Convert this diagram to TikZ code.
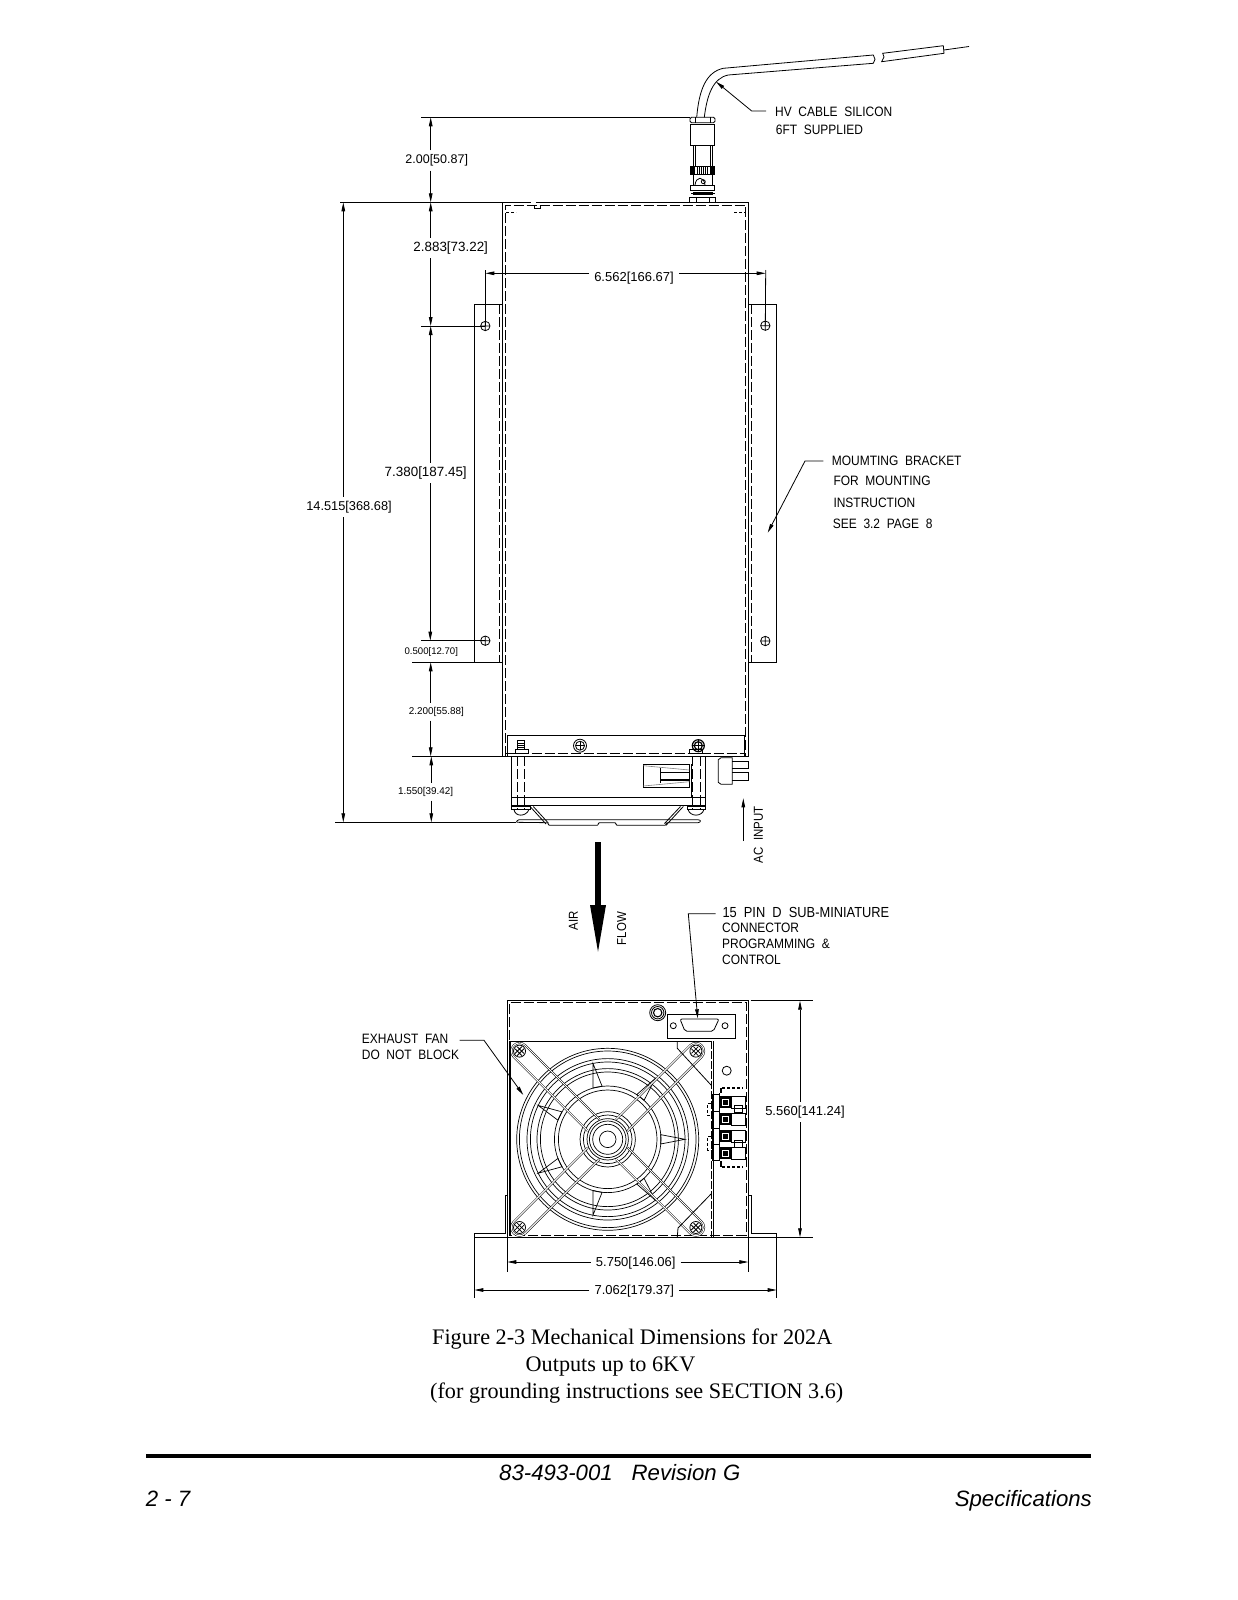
\documentclass[tikz,border=0pt]{standalone}
\usepackage{fontspec}
\usepackage{tikz}
\usetikzlibrary{arrows.meta,calc}
\newfontfamily\cadfont[FakeStretch=0.88,WordSpace=2]{Liberation Sans}
\newfontfamily\cadnum{Liberation Sans}
\newfontfamily\capfont{Liberation Serif}
\newfontfamily\footfont{Liberation Sans}
\newcommand{\mhole}[1]{\draw[ln] (#1) circle (4.7) (#1)++(-4.7,0) -- ++(9.4,0) (#1)++(0,-4.7) -- ++(0,9.4);}

\begin{document}
\begin{tikzpicture}[x=1pt,y=-1pt,
    ln/.style={line width=.8pt},
    hid/.style={line width=.8pt,dash pattern=on 10pt off 3pt},
    tipline/.style={line width=.8pt,-{Stealth[length=9pt,width=3.6pt,inset=0pt]}},
    dimlab/.style={font=\cadnum\fontsize{#1}{#1}\selectfont,inner xsep=5pt,inner ysep=4pt},
    dimlab/.default=13,
    cadlab/.style={font=\cadfont\fontsize{#1}{#1}\selectfont,inner sep=0pt,anchor=west},
    cadlab/.default=13.6,
    caplab/.style={font=\capfont\fontsize{22.2}{22.2}\selectfont,inner sep=0pt,anchor=base west},
    footlab/.style={font=\footfont\itshape\fontsize{22.2}{22.2}\selectfont,inner sep=0pt,anchor=base west},
    dbl/.style={line width=.5pt,double,double distance=1pt}]
  \useasboundingbox (0,0) rectangle (1237,1600);

  % main box
  \draw[ln] (502.5,756) -- (502.5,202.3) -- (531,202.3);
  \draw[ln] (536,202.3) -- (748.7,202.3) -- (748.7,756);
  \draw[hid] (505.5,756) -- (505.5,205) -- (745.5,205) -- (745.5,756);
  \draw[ln] (534.5,205) -- (534.5,208) -- (540.7,208) -- (540.7,205);
  \draw[ln,densely dashed] (506,212) -- (516,212) (734,212) -- (745,212);
  \draw[ln] (507.3,756) -- (507.3,735.7) -- (744,735.7) -- (744,756);
  \draw[hid] (505.5,753.3) -- (745.5,753.3);
  \draw[ln] (502.7,756) -- (748.7,756);

  % brackets
  \draw[ln] (502.3,304.3) -- (474.3,304.3) -- (474.3,662.3) -- (502.3,662.3);
  \draw[ln] (748.7,304) -- (776.3,304) -- (776.3,662.3) -- (748.7,662.3);
  \draw[hid] (499.5,304.3) -- (499.5,662.3);
  \draw[hid] (751.7,304) -- (751.7,662.3);
  \coordinate (hTL) at (485.3,326);
  \coordinate (hBL) at (485.3,640.7);
  \coordinate (hTR) at (765.3,325.7);
  \coordinate (hBR) at (765.3,641);
  \mhole{hTL}
  \mhole{hBL}
  \mhole{hTR}
  \mhole{hBR}

  % cable and connector
  \draw[ln] (696.7,117.3) .. controls (699,90) and (706,72) .. (723.3,68.3) -- (873.3,55) -- (875,59.3) -- (873.3,63.3) -- (728.3,75) .. controls (713,78) and (707,95) .. (704.3,117.3);
  \draw[ln] (882.7,53.3) -- (943.3,45.7) -- (944,53.3) -- (881.7,61.7) -- (884,57) -- cycle;
  \draw[ln] (944,50) -- (969,46.5);
  \draw[ln,rounded corners=1.5pt] (690,117.3) rectangle (715,122.7);
  \draw[ln] (695,117.3) -- (695,122.7) (710,117.3) -- (710,122.7);
  \draw[ln] (690.7,124.3) rectangle (714.7,145);
  \draw[ln] (693.3,145) -- (693.3,166) (695.3,145) -- (695.3,166) (710,145) -- (710,166) (712,145) -- (712,166);
  \draw[ln] (690,166) rectangle (714.7,174);
  \fill (690,166) rectangle (695,174);
  \fill (710,166) rectangle (714.7,174);
  \draw[line width=.6pt] (697,166) -- (697,174) (699,166) -- (699,174) (701,166) -- (701,174) (703,166) -- (703,174) (705,166) -- (705,174) (707,166) -- (707,174);
  \draw[ln] (693.3,174) -- (693.3,185) (712,174) -- (712,185);
  \draw[ln] (695,185) .. controls (696,176) and (704,176) .. (705,185);
  \draw[ln] (703.3,181.7) circle (2);
  \draw[ln] (690.7,185) rectangle (714.7,190);
  \fill (693.3,191.7) rectangle (712.7,195);
  \draw[ln] (691,193) -- (715,193);
  \draw[ln] (689.3,197.3) rectangle (715.7,202);
  \draw[ln] (696,197.3) -- (696,202) (709,197.3) -- (709,202);

  % fan tray side view
  \draw[ln] (511.3,756) -- (511.3,805.7) -- (705.7,805.7) -- (705.7,756);
  \draw[ln] (511.3,797.7) -- (705.7,797.7);
  \draw[hid] (517,756) -- (517,810) (524.3,756) -- (524.3,810) (692.5,756) -- (692.5,810) (700,756) -- (700,810);
  \draw[ln] (691.3,764) -- (691.3,797.7);
  \draw[ln] (515,749.3) rectangle (528.3,753.3);
  \draw[ln] (517.3,740.7) rectangle (524.7,749.3);
  \draw[ln] (517.3,743) -- (524.7,743) (517.3,745) -- (524.7,745) (517.3,747) -- (524.7,747);
  \draw[ln] (689,749.3) rectangle (702.7,753.3);
  \draw[ln] (580,745.7) circle (6.5) (580,745.7) circle (4.5);
  \draw[ln] (575.5,745.7) -- (584.5,745.7) (580,741.2) -- (580,750.2);
  \draw[line width=1.2pt] (698.3,745.7) circle (6) (698.3,745.7) circle (4);
  \draw[ln] (692.3,745.7) -- (704.3,745.7) (698.3,739.7) -- (698.3,751.7);
  \draw[ln] (511,806.5) rectangle (530,809.5);
  \draw[ln] (514,809.5) .. controls (515,817) and (526,817) .. (529,809.5);
  \draw[ln] (687,806.5) rectangle (705,809.5);
  \draw[ln] (688,809.5) .. controls (690,817) and (702,817) .. (704,809.5);
  \draw[ln] (643.3,764.3) rectangle (689.3,787.7);
  \draw[line width=.6pt,gray] (643.3,765.7) -- (689.3,770) (643.3,786) -- (689.3,781.7);
  \draw[ln] (660,768.3) -- (660,783.3);
  \draw[line width=1.4pt] (660,772.7) -- (689.3,772.7) (660,780) -- (689.3,780);
  \draw[ln] (718.3,759.7) -- (721,757.7) -- (732.3,757.7) -- (732.3,784.3) -- (721,784.3) -- (718.3,782.3) -- cycle;
  \draw[ln] (732.3,761) -- (748.7,761) -- (748.7,768.3) -- (732.3,768.3);
  \draw[ln] (732.3,772.3) -- (748.7,772.3) -- (748.7,780) -- (732.3,780);
  \draw[ln,rounded corners=1pt] (516,822.3) -- (518,819.7) -- (699,819.7) -- (701,821) -- (699,822.7) -- (666,822.7) -- (666,825.3) -- (616,825.3) -- (616,822.7) -- (598.3,822.7) -- (598.3,825.3) -- (548.3,825.3) -- (548.3,822.7) -- cycle;
  \draw[ln] (533.3,806.5) -- (548.3,823) (531,807.5) -- (546,824) (683.3,806.5) -- (666,825.3) (680.5,806.5) -- (664.5,823.5);

  % side view dimensions
  \draw[ln] (421,117.3) -- (690,117.3);
  \draw[ln] (340,202.3) -- (502.5,202.3);
  \draw[ln] (421,326) -- (hTL);
  \draw[ln] (421,640.7) -- (hBL);
  \draw[ln] (412.3,662.3) -- (474.3,662.3);
  \draw[ln] (412.3,756.3) -- (502.5,756.3);
  \draw[ln] (335,822.3) -- (516,822.3);
  \coordinate (a0) at (430.7,117.3);
  \coordinate (a1) at (430.7,202.3);
  \coordinate (a2) at (430.7,326);
  \coordinate (a3) at (430.3,640.7);
  \coordinate (a4) at (430.7,662.3);
  \coordinate (a5) at (430.7,756.3);
  \coordinate (a6) at (431.3,756.3);
  \coordinate (a7) at (431.3,822.3);
  \coordinate (l0) at (343.3,202.3);
  \coordinate (l1) at (343.3,822.3);
  \node[dimlab=12.5] (d200) at (436.7,160.5) {2.00[50.87]};
  \node[dimlab=13.4] (d288) at (450.7,248) {2.883[73.22]};
  \node[dimlab=13.4] (d738) at (425.7,473) {7.380[187.45]};
  \node[dimlab=9.6] (d050) at (431.3,652.3) {0.500[12.70]};
  \node[dimlab=9.9] (d220) at (436.3,711.7) {2.200[55.88]};
  \node[dimlab=9.9] (d155) at (425.7,791.7) {1.550[39.42]};
  \node[dimlab=12.8] (d145) at (349,507) {14.515[368.68]};
  \draw[tipline] (d200.north -| a0) -- (a0);
  \draw[tipline] (d200.south -| a1) -- (a1);
  \draw[tipline] (d288.north -| a1) -- (a1);
  \draw[tipline] (d288.south -| a2) -- (a2);
  \draw[tipline] (d738.north -| a2) -- (a2);
  \draw[tipline] (d738.south -| a3) -- (a3);
  \draw[tipline] (d220.north -| a4) -- (a4);
  \draw[tipline] (d220.south -| a5) -- (a5);
  \draw[tipline] (d155.north -| a6) -- (a6);
  \draw[tipline] (d155.south -| a7) -- (a7);
  \draw[tipline] (d145.north -| l0) -- (l0);
  \draw[tipline] (d145.south -| l1) -- (l1);

  \draw[ln] (hTL) -- (485.3,270);
  \draw[ln] (hTR) -- (765.7,270);
  \coordinate (w0) at (485.3,273.3);
  \coordinate (w1) at (765.7,273.3);
  \node[dimlab] (d656) at (634,278.5) {6.562[166.67]};
  \draw[tipline] (d656.west |- w0) -- (w0);
  \draw[tipline] (d656.east |- w1) -- (w1);

  % leaders
  \node[cadlab] (hv1) at (775,112.3) {HV CABLE SILICON};
  \node[cadlab] (hv2) at (775.7,129.7) {6FT SUPPLIED};
  \coordinate (hvtip) at (716,81.7);
  \draw[tipline] (hv1.west) ++(-9,-1.3) -- (751.7,111) -- (hvtip);
  \node[cadlab] (mb1) at (831.7,461) {MOUMTING BRACKET};
  \node[cadlab] (mb2) at (833.3,481) {FOR MOUNTING};
  \node[cadlab] (mb3) at (833.3,502.7) {INSTRUCTION};
  \node[cadlab] (mb4) at (832.7,524.3) {SEE 3.2 PAGE 8};
  \coordinate (mbtip) at (767.7,532.7);
  \draw[tipline] (mb1.west) ++(-8.4,0) -- (805,461) -- (mbtip);

  % ac input and air flow
  \coordinate (actip) at (743.3,798.3);
  \coordinate (acend) at (743.3,841);
  \draw[tipline] (acend) -- (actip);
  \node[cadlab=13,rotate=90,anchor=west] (ac) at (758.3,863.3) {AC INPUT};
  \fill (595,842.3) rectangle (601,905);
  \fill (590,905) -- (606,905) -- (598,951.7) -- cycle;
  \node[cadlab=13,rotate=90,anchor=center] (air) at (573.3,921) {AIR};
  \node[cadlab=13,rotate=90,anchor=center] (flow) at (621.7,928.5) {FLOW};
  \node[cadlab=14.6] (dsub1) at (722.3,912.7) {15 PIN D SUB-MINIATURE};
  \node[cadlab] (dsub2) at (722,928.3) {CONNECTOR};
  \node[cadlab] (dsub3) at (722,944) {PROGRAMMING \&};
  \node[cadlab] (dsub4) at (722,960) {CONTROL};
  \coordinate (dstip) at (697.7,1018.3);
  \draw[tipline] (dsub1.west) ++(-6.6,1) -- (688.3,913.7) -- (dstip);
  \node[cadlab] (ex1) at (361.7,1039.3) {EXHAUST FAN};
  \node[cadlab] (ex2) at (361.7,1055) {DO NOT BLOCK};
  \coordinate (extip) at (523.3,1095);

  % end view housing
  \draw[ln] (507.3,1237.3) -- (507.3,1000.7) -- (748.7,1000.7) -- (748.7,1237.3);
  \draw[hid] (509.3,1235.3) -- (509.3,1002.6) -- (746,1002.6) -- (746,1235.3) -- cycle;
  \draw[ln] (474.3,1237.3) -- (474.3,1233.3) -- (505,1233.3) -- (505,1195) -- (507.3,1195);
  \draw[ln] (776.7,1237.3) -- (776.7,1233.3) -- (751,1233.3) -- (751,1195) -- (748.7,1195);
  \draw[ln] (474.3,1237.3) -- (776.7,1237.3);

  % fan
  \coordinate (fan) at (607.7,1139.3);
  \foreach \r in {91,88.3,80.7,77.3,70.7,67.3,53.3,49.3,27.7,24.3,20.7,18.3,15,8.3}
    \draw[line width=.7pt] (fan) circle (\r);
  \foreach \a in {0,52,101,154,206,259,308} {
    \draw[line width=.7pt] ($(fan)+(\a-5:53.3)$) -- ($(fan)+(\a:77.3)$) -- ($(fan)+(\a+5:53.3)$) -- cycle;
  }
  \foreach \a in {45,135,225,315} {
    \begin{scope}[shift={(fan)},rotate=\a]
      \draw[dbl] (20,8.2) -- (124.7,8.2) arc[start angle=90,end angle=-90,radius=8.2] -- (20,-8.2);
      \draw[ln] (124.7,0) circle (6);
      \draw[ln] (120,-1.5) -- (129.4,-1.5) (120,1.5) -- (129.4,1.5) (123.2,-5) -- (123.2,5) (126.2,-5) -- (126.2,5);
    \end{scope}
  }
  \draw[line width=1.4pt] (510,1041) -- (510,1235);
  \draw[ln] (510,1041) -- (712.3,1041);
  \draw[ln] (677.3,1041) -- (677.3,1048.3) -- (711,1085);
  \draw[ln] (711,1194) -- (678,1228) -- (677.3,1237);
  \draw[line width=.6pt,dash pattern=on 8pt off 2pt] (711,1041) -- (711,1237);
  \draw[line width=.6pt] (713,1041) -- (713,1237);

  \draw[tipline] (ex1.east) ++(11,1) -- (484,1040.3) -- (extip);

  % d sub and standoff
  \draw[ln] (667.3,1014.3) rectangle (735.7,1038.3);
  \draw[ln] (673.3,1025.7) circle (3) (725,1025.7) circle (3);
  \draw[ln,rounded corners=2pt] (680,1019) -- (719,1019) -- (713.3,1031.3) -- (685,1031.3) -- cycle;
  \draw[ln] (657.7,1012.7) circle (8) (657.7,1012.7) circle (6.2);
  \draw[line width=1.1pt] (657.7,1012.7) circle (4.2);
  \draw[ln] (726.7,1070.7) circle (4.5);

  % terminal block
  \draw[line width=2pt,densely dashed] (722,1088) -- (743,1088) (722,1166.5) -- (743,1166.5);
  \draw[line width=1.4pt] (719.3,1093) -- (719.3,1161) (721,1088) -- (721,1093) (721,1161) -- (721,1166.5);
  \draw[ln] (712.7,1094.3) rectangle (719.3,1160);
  \draw[ln] (712.7,1111) -- (719.3,1111) (712.7,1128) -- (719.3,1128) (712.7,1144) -- (719.3,1144);
  \draw[ln,densely dashed] (710.7,1103.3) -- (707.3,1103.3) -- (707.3,1115) -- (710.7,1115);
  \draw[ln,densely dashed] (710.7,1136.7) -- (707.3,1136.7) -- (707.3,1150) -- (710.7,1150);
  \foreach \y in {1102.3,1119,1136,1153.3} {
    \fill (719.5,\y-6) rectangle (731.5,\y+6);
    \draw[white,line width=.6pt] (722.5,\y-3) rectangle (728.5,\y+3);
    \draw[ln] (731.5,\y-6) rectangle (745,\y+6);
  }
  \draw[ln] (734,1105) rectangle (742,1112) (734,1140) rectangle (742,1147);

  % end view dimensions
  \draw[ln] (507.3,1237.3) -- (507.3,1271.7);
  \draw[ln] (748.3,1237.3) -- (748.3,1271.7);
  \draw[ln] (474.3,1237.3) -- (474.3,1298.3);
  \draw[ln] (776.7,1237.3) -- (776.7,1298.3);
  \draw[ln] (750.7,1000.7) -- (812.7,1000.7);
  \draw[ln] (776.7,1237.3) -- (812.7,1237.3);
  \coordinate (b0) at (507.3,1262);
  \coordinate (b1) at (748.3,1262);
  \coordinate (c0) at (474.3,1290);
  \coordinate (c1) at (776.7,1290);
  \coordinate (r0) at (800,1000.7);
  \coordinate (r1) at (800,1237.3);
  \node[dimlab] (d575) at (635.7,1263.5) {5.750[146.06]};
  \node[dimlab] (d706) at (634.3,1291.5) {7.062[179.37]};
  \node[dimlab] (d556) at (805,1112) {5.560[141.24]};
  \draw[tipline] (d575.west |- b0) -- (b0);
  \draw[tipline] (d575.east |- b1) -- (b1);
  \draw[tipline] (d706.west |- c0) -- (c0);
  \draw[tipline] (d706.east |- c1) -- (c1);
  \draw[tipline] (d556.north -| r0) -- (r0);
  \draw[tipline] (d556.south -| r1) -- (r1);

  % caption and footer
  \node[caplab] (cap1) at (432,1344) {Figure 2-3 Mechanical Dimensions for 202A};
  \node[caplab] (cap2) at (525.5,1371) {Outputs up to 6KV};
  \node[caplab] (cap3) at (430,1398) {(for grounding instructions see SECTION 3.6)};
  \fill (145.7,1454) rectangle (1091,1458.4);
  \node[footlab] (ft1) at (499,1480) {83-493-001\hspace{19pt}Revision G};
  \node[footlab] (ft2) at (145.7,1506) {2 - 7};
  \node[footlab,anchor=base east] (ft3) at (1092,1506) {Specifications};
\end{tikzpicture}
\end{document}
